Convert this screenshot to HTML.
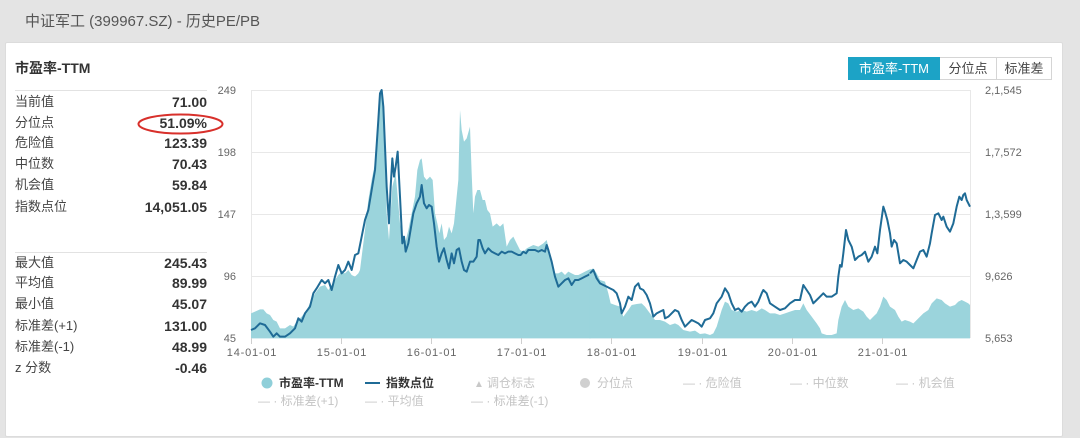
<!DOCTYPE html>
<html><head><meta charset="utf-8">
<style>
*{margin:0;padding:0;box-sizing:border-box}
body{width:1080px;height:438px;background:#e4e4e4;font-family:"Liberation Sans","Noto Sans CJK SC",sans-serif;position:relative;overflow:hidden}
.hdr{position:absolute;left:25px;top:12px;font-size:15px;color:#555;line-height:20px}
.card{position:absolute;left:5px;top:42px;width:1058px;height:395px;background:#fff;border:1px solid #dcdcdc;border-radius:2px}
.t{position:absolute;white-space:nowrap}
.lab{position:absolute;left:15px;font-size:13px;color:#444;line-height:16px}
.val{position:absolute;right:873px;font-size:14px;font-weight:bold;color:#333;line-height:16px;text-align:right}
.sep{position:absolute;left:15px;width:192px;height:1px;background:#e2e2e2}
.btn{position:absolute;top:57px;height:23px;font-size:13px;line-height:21px;text-align:center;border:1px solid #d5d5d5;background:#fff;color:#444}
.lg{position:absolute;font-size:12px;line-height:14px;color:#c4c4c4;white-space:nowrap}
</style></head><body>
<div class="hdr">中证军工 (399967.SZ) - 历史PE/PB</div>
<div class="card"></div>
<div class="t" style="left:15px;top:60px;font-size:14px;font-weight:bold;color:#333;line-height:16px">市盈率-TTM</div>
<div class="sep" style="top:90px"></div>
<div class="sep" style="top:252px"></div>

<div class="lab" style="top:94px">当前值</div><div class="val" style="top:94px">71.00</div>
<div class="lab" style="top:115px">分位点</div><div class="val" style="top:115px">51.09%</div>
<div class="lab" style="top:135px">危险值</div><div class="val" style="top:135px">123.39</div>
<div class="lab" style="top:156px">中位数</div><div class="val" style="top:156px">70.43</div>
<div class="lab" style="top:177px">机会值</div><div class="val" style="top:177px">59.84</div>
<div class="lab" style="top:199px">指数点位</div><div class="val" style="top:199px">14,051.05</div>

<div class="lab" style="top:255px">最大值</div><div class="val" style="top:255px">245.43</div>
<div class="lab" style="top:275px">平均值</div><div class="val" style="top:275px">89.99</div>
<div class="lab" style="top:296px">最小值</div><div class="val" style="top:296px">45.07</div>
<div class="lab" style="top:318px">标准差(+1)</div><div class="val" style="top:318px">131.00</div>
<div class="lab" style="top:339px">标准差(-1)</div><div class="val" style="top:339px">48.99</div>
<div class="lab" style="top:360px">z 分数</div><div class="val" style="top:360px">-0.46</div>

<div class="btn" style="left:848px;width:92px;background:#1ca3c6;border-color:#1ca3c6;color:#fff">市盈率-TTM</div>
<div class="btn" style="left:940px;width:57px;border-left:none">分位点</div>
<div class="btn" style="left:997px;width:55px;border-left:none">标准差</div>

<svg width="1080" height="438" style="position:absolute;left:0;top:0" xmlns="http://www.w3.org/2000/svg">
<ellipse cx="180.5" cy="124" rx="42" ry="9.5" fill="none" stroke="#d8302b" stroke-width="2"/>
<!-- grid -->
<g stroke="#e8e8e8" stroke-width="1">
<line x1="251" y1="90.5" x2="970" y2="90.5"/>
<line x1="251" y1="152.5" x2="970" y2="152.5"/>
<line x1="251" y1="214.5" x2="970" y2="214.5"/>
<line x1="251" y1="276.5" x2="970" y2="276.5"/>
<line x1="251.5" y1="90" x2="251.5" y2="338"/>
<line x1="970.5" y1="90" x2="970.5" y2="338"/>
</g>
<g transform="translate(240,80) scale(0.333333)">
<polygon fill="#9bd4dc" stroke="none" points="33,775 33,700 45,695 60,688 70,688 80,700 90,705 100,720 110,725 120,745 135,745 150,735 160,740 170,725 185,710 200,690 215,660 225,640 240,620 255,615 265,630 275,615 285,600 295,585 305,575 315,580 325,570 335,585 345,590 355,580 360,570 365,530 375,450 385,360 395,300 405,250 415,120 420,40 425,35 430,90 435,200 440,400 447,480 452,400 457,320 462,300 467,280 473,350 480,430 487,480 495,490 505,450 515,400 525,350 532,270 540,240 545,235 552,290 560,300 570,290 578,300 585,400 592,430 598,460 605,430 612,480 620,470 627,440 635,460 642,430 650,350 655,300 660,90 665,150 672,185 680,175 690,140 695,280 700,400 705,350 712,330 720,330 728,360 735,360 742,390 750,400 758,440 770,430 780,440 790,430 800,500 810,480 820,470 830,490 840,510 850,515 860,505 870,500 880,495 895,500 910,490 920,480 925,500 935,540 945,580 955,580 965,575 975,585 985,575 995,580 1005,585 1015,585 1025,580 1035,575 1045,570 1052,567 1052,775"/>
<polyline fill="none" stroke="#1f6b96" stroke-width="6" stroke-linejoin="round" points="33,750 45,745 60,730 75,735 90,755 100,770 110,760 120,770 135,770 150,760 165,745 175,715 185,725 195,700 210,680 220,640 230,625 245,600 255,610 265,600 275,630 285,590 295,555 305,580 315,570 325,545 335,570 345,525 355,520 365,470 375,420 385,390 395,330 405,270 415,120 420,40 425,30 430,80 435,200 440,320 447,430 452,320 457,235 462,290 467,260 473,215 480,350 487,490 492,470 497,515 505,490 515,430 520,400 530,370 540,350 545,315 552,370 560,385 567,375 575,380 582,430 590,500 597,545 605,520 612,505 620,540 627,565 635,520 642,550 650,510 657,505 665,545 672,570 680,575 690,545 700,545 710,530 715,480 720,480 728,505 735,520 745,505 755,515 765,520 775,525 785,515 795,520 805,515 815,515 825,520 835,525 842,525 850,515 858,520 865,510 875,510 885,510 895,515 905,510 915,515 920,495 925,510 935,545 945,590 955,620 965,610 975,600 985,595 995,615 1005,600 1015,600 1025,595 1035,590 1045,585 1051,581"/>
</g>
<g transform="translate(590,80) scale(0.333333)">
<polygon fill="#9bd4dc" stroke="none" points="-2,775 -2,570 10,565 20,580 30,600 45,605 55,640 62,670 75,675 90,680 100,710 115,690 125,675 140,672 155,670 165,680 180,700 195,720 210,720 225,725 240,735 255,730 265,735 280,750 300,755 315,752 330,762 345,760 360,765 370,760 380,740 395,690 405,665 415,670 425,690 440,695 455,690 470,695 485,690 500,695 515,685 525,690 540,700 555,700 570,705 585,700 600,695 615,690 630,690 640,670 650,690 665,710 680,730 690,745 695,760 710,765 725,765 740,760 745,720 755,680 765,660 775,680 790,690 805,685 820,695 830,710 840,720 850,710 860,700 870,680 880,650 890,660 900,680 915,690 925,710 935,725 945,720 960,725 970,730 985,715 1000,700 1015,690 1025,670 1040,655 1055,660 1065,670 1080,680 1095,675 1105,665 1115,660 1125,665 1135,670 1140,675 1140,775"/>
<polyline fill="none" stroke="#1f6b96" stroke-width="6" stroke-linejoin="round" points="0,580 10,570 20,595 30,610 40,615 50,620 60,625 70,630 80,640 90,670 95,700 105,680 115,650 125,660 135,620 145,610 150,625 160,630 170,645 180,670 190,710 200,700 210,695 220,690 225,715 235,710 245,700 255,690 265,695 275,720 285,740 295,730 305,720 315,725 325,730 335,740 345,720 360,715 370,700 380,670 395,650 405,625 415,640 425,670 435,690 445,685 455,695 465,680 475,670 485,665 495,680 505,665 515,640 520,630 530,640 540,670 555,680 570,690 585,685 600,670 615,660 630,660 640,615 650,630 660,645 670,670 680,660 690,650 700,640 710,650 725,650 740,640 745,590 750,555 755,560 760,520 768,450 775,480 785,500 795,540 805,530 815,525 825,515 835,545 845,530 855,500 862,520 870,450 880,380 885,395 892,420 900,460 905,500 912,480 920,490 930,550 940,540 950,545 960,555 970,565 980,540 990,515 1000,510 1010,530 1020,490 1025,460 1035,405 1045,400 1055,420 1060,410 1070,440 1080,455 1090,430 1100,380 1108,350 1115,360 1120,345 1125,340 1130,360 1140,380"/>
</g>
<!-- x ticks -->
<g stroke="#cfcfcf" stroke-width="1">
<line x1="251.5" y1="338" x2="251.5" y2="344"/>
<line x1="341.5" y1="338" x2="341.5" y2="344"/>
<line x1="431.5" y1="338" x2="431.5" y2="344"/>
<line x1="521.5" y1="338" x2="521.5" y2="344"/>
<line x1="611.5" y1="338" x2="611.5" y2="344"/>
<line x1="702.5" y1="338" x2="702.5" y2="344"/>
<line x1="792.5" y1="338" x2="792.5" y2="344"/>
<line x1="882.5" y1="338" x2="882.5" y2="344"/>
</g>
<g font-family="Liberation Sans, Noto Sans CJK SC, sans-serif" font-size="11" fill="#666">
<g text-anchor="end">
<text x="236" y="94">249</text>
<text x="236" y="156">198</text>
<text x="236" y="218">147</text>
<text x="236" y="280">96</text>
<text x="236" y="342">45</text>
</g>
<text x="985" y="94">2,1,545</text>
<text x="985" y="156">1,7,572</text>
<text x="985" y="218">1,3,599</text>
<text x="985" y="280">9,626</text>
<text x="985" y="342">5,653</text>
<g text-anchor="middle" letter-spacing="0.8">
<text x="252" y="356">14-01-01</text>
<text x="342" y="356">15-01-01</text>
<text x="432" y="356">16-01-01</text>
<text x="522" y="356">17-01-01</text>
<text x="612" y="356">18-01-01</text>
<text x="703" y="356">19-01-01</text>
<text x="793" y="356">20-01-01</text>
<text x="883" y="356">21-01-01</text>
</g>
</g>
<circle cx="267" cy="383" r="5.5" fill="#8fcfd9"/>
<line x1="365" y1="383" x2="380" y2="383" stroke="#1f6b96" stroke-width="2"/>
<text x="474" y="387" font-size="10" fill="#c8c8c8">▲</text>
<circle cx="585" cy="383" r="5" fill="#d0d0d0"/>
</svg>

<div class="lg" style="left:279px;top:376px;color:#333;font-weight:bold">市盈率-TTM</div>
<div class="lg" style="left:386px;top:376px;color:#333;font-weight:bold">指数点位</div>
<div class="lg" style="left:487px;top:376px">调仓标志</div>
<div class="lg" style="left:597px;top:376px">分位点</div>
<div class="lg" style="left:683px;top:376px">— · 危险值</div>
<div class="lg" style="left:790px;top:376px">— · 中位数</div>
<div class="lg" style="left:896px;top:376px">— · 机会值</div>
<div class="lg" style="left:258px;top:394px">— · 标准差(+1)</div>
<div class="lg" style="left:365px;top:394px">— · 平均值</div>
<div class="lg" style="left:471px;top:394px">— · 标准差(-1)</div>
</body></html>
